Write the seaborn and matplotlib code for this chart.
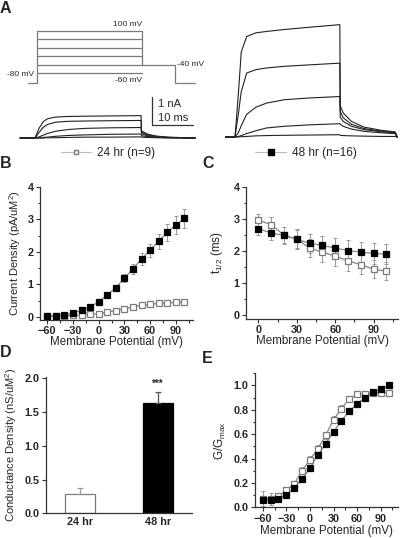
import numpy as np
import pandas as pd
import matplotlib
matplotlib.use("Agg")
import matplotlib.pyplot as plt
from matplotlib.lines import Line2D
from matplotlib.ticker import MultipleLocator
import seaborn as sns

# ---------------- data ----------------
# Panel A: voltage protocol (schematic levels) and current traces (ms, nA)
protocol_steps = [0.0, 0.2, 0.4, 0.6, 0.8, 1.0]
hold_level = -0.235
tail_level = 0.195
t_step_on, t_step_off, t_tail_off = 0.0, 25.2, 33.2

t_24 = [-3.6, 0, 1, 2, 3, 5, 8, 12, 18, 25.5, 25.6, 27, 29, 32, 38.5]
traces_24 = [
    [0, 0, 0.35, 0.58, 0.68, 0.74, 0.76, 0.77, 0.78, 0.79, 0.25, 0.14, 0.07, 0.03, 0],
    [0, 0, 0.20, 0.38, 0.48, 0.56, 0.59, 0.60, 0.61, 0.62, 0.20, 0.11, 0.06, 0.02, 0],
    [0, 0, 0.04, 0.10, 0.16, 0.24, 0.30, 0.34, 0.36, 0.37, 0.15, 0.08, 0.04, 0.02, 0],
    [0, 0, 0.00, 0.02, 0.03, 0.06, 0.09, 0.11, 0.13, 0.14, 0.08, 0.05, 0.03, 0.01, 0],
    [0, 0, 0.00, 0.00, 0.01, 0.01, 0.02, 0.03, 0.03, 0.04, 0.03, 0.02, 0.01, 0.00, 0],
]
t_48 = [-3, 0, 0.8, 1.5, 2.8, 5, 7.6, 12, 18, 25.2, 25.3, 26, 28, 31, 35, 38.5, 39.0]
traces_48 = [
    [0, 0, 1.5, 3.0, 3.55, 3.68, 3.73, 3.80, 3.88, 3.97, 1.10, 0.85, 0.55, 0.35, 0.24, 0.18, 0],
    [0, 0, 0.8, 1.6, 2.26, 2.38, 2.44, 2.50, 2.55, 2.61, 0.90, 0.68, 0.45, 0.30, 0.21, 0.16, 0],
    [0, 0, 0.15, 0.4, 0.80, 1.05, 1.20, 1.32, 1.38, 1.43, 0.70, 0.55, 0.38, 0.26, 0.19, 0.14, 0],
    [0, 0, 0.02, 0.05, 0.12, 0.22, 0.32, 0.38, 0.43, 0.47, 0.45, 0.38, 0.28, 0.20, 0.15, 0.12, 0],
    [0, 0, 0.0, 0.01, 0.02, 0.04, 0.05, 0.06, 0.07, 0.08, 0.06, 0.05, 0.04, 0.03, 0.02, 0.02, 0],
]

# Panel B: current density vs membrane potential
volt_B = [-60, -50, -40, -30, -20, -10, 0, 10, 20, 30, 40, 50, 60, 70, 80, 90, 100]
dens_24 = [0.01, 0.02, 0.03, 0.04, 0.05, 0.07, 0.10, 0.14, 0.19, 0.25, 0.30, 0.35, 0.38, 0.41, 0.43, 0.44, 0.46]
dens_24_err = [0.02, 0.02, 0.02, 0.02, 0.02, 0.02, 0.03, 0.03, 0.03, 0.04, 0.04, 0.04, 0.05, 0.05, 0.05, 0.05, 0.05]
dens_48 = [0.02, 0.03, 0.06, 0.12, 0.20, 0.31, 0.46, 0.67, 0.90, 1.19, 1.48, 1.78, 2.05, 2.33, 2.60, 2.83, 3.03]
dens_48_err = [0.02, 0.02, 0.02, 0.03, 0.03, 0.04, 0.04, 0.05, 0.08, 0.12, 0.15, 0.18, 0.20, 0.23, 0.26, 0.28, 0.30]

# Panel C: t1/2 vs membrane potential
volt_C = [0, 10, 20, 30, 40, 50, 60, 70, 80, 90, 100]
thalf_24 = [2.97, 2.83, 2.50, 2.38, 2.10, 1.97, 1.85, 1.70, 1.58, 1.44, 1.38]
thalf_24_err = [0.20, 0.25, 0.25, 0.30, 0.28, 0.30, 0.30, 0.30, 0.30, 0.28, 0.27]
thalf_48 = [2.70, 2.57, 2.49, 2.37, 2.25, 2.18, 2.10, 2.02, 1.97, 1.93, 1.91]
thalf_48_err = [0.20, 0.22, 0.25, 0.28, 0.30, 0.30, 0.30, 0.32, 0.32, 0.32, 0.32]

# Panel D: conductance density
groups_D = ["24 hr", "48 hr"]
cond_D = [0.29, 1.64]
cond_D_err = [0.085, 0.16]

# Panel E: G/Gmax
volt_E = volt_B
g_24 = [0.07, 0.07, 0.09, 0.14, 0.19, 0.30, 0.39, 0.48, 0.59, 0.72, 0.81, 0.89, 0.93, 0.93, 0.94, 0.94, 0.94]
g_24_err = [0.06, 0.05, 0.02, 0.02, 0.02, 0.03, 0.03, 0.03, 0.03, 0.03, 0.03, 0.02, 0.02, 0.01, 0.01, 0.01, 0.01]
g_48 = [0.06, 0.06, 0.07, 0.10, 0.16, 0.23, 0.32, 0.43, 0.52, 0.62, 0.71, 0.79, 0.85, 0.90, 0.945, 0.97, 1.00]
g_48_err = [0.02, 0.02, 0.02, 0.02, 0.02, 0.02, 0.02, 0.02, 0.02, 0.02, 0.02, 0.02, 0.02, 0.01, 0.01, 0.01, 0.01]

# ---------------- style ----------------
sns.set_style("ticks")
plt.rcParams['font.family'] = ['Liberation Sans', 'DejaVu Sans']
plt.rcParams['font.weight'] = 'bold'          # tick labels are bold in the reference
plt.rcParams['mathtext.default'] = 'regular'
plt.rcParams['xtick.labelsize'] = 7.8
plt.rcParams['ytick.labelsize'] = 7.8
plt.rcParams['axes.linewidth'] = 0.9
plt.rcParams['axes.edgecolor'] = '#333333'
plt.rcParams['xtick.major.size'] = 3
plt.rcParams['ytick.major.size'] = 3
plt.rcParams['xtick.minor.size'] = 1.8
plt.rcParams['ytick.minor.size'] = 1.8
plt.rcParams['xtick.major.pad'] = 1.5
plt.rcParams['ytick.major.pad'] = 1.5

GRAY = '#7a7a7a'
W, H = 400, 538
fig = plt.figure(figsize=(4, 5.38), dpi=100)


def px_axes(x0, y0, x1, y1):
    # axes from pixel box (top-left origin)
    return fig.add_axes([x0 / W, 1 - y1 / H, (x1 - x0) / W, (y1 - y0) / H])


def series(ax, x, y, err, filled):
    df = pd.DataFrame({"x": x, "y": y})
    ax.errorbar(x, y, yerr=err, fmt='none', ecolor='#999999', elinewidth=0.7,
                capsize=1.6, capthick=0.7, zorder=2)
    sns.lineplot(data=df, x="x", y="y", ax=ax, color=GRAY, lw=0.8, marker='s',
                 markersize=4.3 if filled else 3.7,
                 markerfacecolor='black' if filled else 'white',
                 markeredgecolor='black' if filled else GRAY,
                 markeredgewidth=0.9, zorder=4 if filled else 3)
    ax.set_xlabel("")
    ax.set_ylabel("")
    ax.tick_params(which='both', color='#333333', width=0.8)


# ---------------- Panel A ----------------
axp = px_axes(0, 20, 200, 90)
axp.axis('off')
axp.set_xlim((0 - 37) / 4.16, (200 - 37) / 4.16)
axp.set_ylim(-0.39, 1.25)
for lv in protocol_steps:
    axp.plot([t_step_on, t_step_off], [lv, lv], color=GRAY, lw=0.9)
axp.plot([-2.2, t_step_on, t_step_on], [hold_level, hold_level, max(protocol_steps)], color=GRAY, lw=0.9)
axp.plot([t_step_off, t_step_off, t_tail_off, t_tail_off, 38.0],
         [max(protocol_steps), tail_level, tail_level, hold_level, hold_level], color=GRAY, lw=0.9)
axp.text(t_step_off, 1.06, "100 mV", fontsize=6, ha='right', va='bottom', fontweight='normal')
axp.text(t_step_off, -0.08, "-60 mV", fontsize=6, ha='right', va='top', fontweight='normal')
axp.text(-0.6, -0.03, "-80 mV", fontsize=6, ha='right', va='center', fontweight='normal')
axp.text(t_tail_off + 0.4, tail_level + 0.02, "-40 mV", fontsize=6, ha='left', va='center',
         fontweight='normal')

axl = px_axes(15, 92, 200, 142)
axl.axis('off')
axl.set_xlim((15 - 35) / 4.16, (200 - 35) / 4.16)
axl.set_ylim((138 - 142) / 28.3, (138 - 92) / 28.3)
for tr in traces_24:
    axl.plot(t_24, tr, color='#222222', lw=0.8)
# scale bar 1 nA / 10 ms
axl.plot([28.05, 28.05, 38.05], [1.46, 0.46, 0.46], color='#333333', lw=0.9)
axl.text(29.6, 1.20, "1 nA", fontsize=8, ha='left', va='center', fontweight='normal')
axl.text(29.6, 0.72, "10 ms", fontsize=8, ha='left', va='center', fontweight='normal')

axr = px_axes(225, 18, 400, 142)
axr.axis('off')
axr.set_xlim((225 - 235) / 4.16, (400 - 235) / 4.16)
axr.set_ylim((137 - 142) / 28.3, (137 - 18) / 28.3)
for tr in traces_48:
    axr.plot(t_48, tr, color='#222222', lw=0.8)

h24 = Line2D([0], [0], color='#bbbbbb', lw=0.8, marker='s', markersize=3.5,
             markerfacecolor='white', markeredgecolor=GRAY)
h48 = Line2D([0], [0], color='#bbbbbb', lw=0.8, marker='s', markersize=4,
             markerfacecolor='black', markeredgecolor='black')
leg_font = {'size': 8.5, 'weight': 'normal'}
axl.legend(handles=[h24], labels=["24 hr (n=9)"], loc='center', frameon=False,
           bbox_to_anchor=(108 / W, 1 - 153 / H), bbox_transform=fig.transFigure,
           prop=leg_font, handlelength=2.6, handletextpad=0.5)
axr.legend(handles=[h48], labels=["48 hr (n=16)"], loc='center', frameon=False,
           bbox_to_anchor=(306 / W, 1 - 153 / H), bbox_transform=fig.transFigure,
           prop=leg_font, handlelength=2.6, handletextpad=0.5)

# ---------------- Panel B ----------------
axB = px_axes(40, 187, 193, 320)
series(axB, volt_B, dens_24, dens_24_err, False)
series(axB, volt_B, dens_48, dens_48_err, True)
axB.set_xlim(-68.5, 110)
axB.set_ylim(-0.1, 4.0)
axB.xaxis.set_major_locator(MultipleLocator(30))
axB.xaxis.set_minor_locator(MultipleLocator(15))
axB.yaxis.set_major_locator(MultipleLocator(1))
axB.yaxis.set_minor_locator(MultipleLocator(0.5))
axB.set_xlabel("Membrane Potential (mV)", fontsize=8.4, fontweight='normal', labelpad=0)
axB.set_ylabel("Current Density (pA/uM$^2$)", fontsize=8, fontweight='normal', labelpad=3)
sns.despine(ax=axB)

# ---------------- Panel C ----------------
axC = px_axes(246, 187, 398, 319)
series(axC, volt_C, thalf_24, thalf_24_err, False)
series(axC, volt_C, thalf_48, thalf_48_err, True)
axC.set_xlim(-9.6, 109)
axC.set_ylim(-0.11, 4.0)
axC.xaxis.set_major_locator(MultipleLocator(30))
axC.xaxis.set_minor_locator(MultipleLocator(15))
axC.yaxis.set_major_locator(MultipleLocator(1))
axC.yaxis.set_minor_locator(MultipleLocator(0.5))
axC.set_xlabel("Membrane Potential (mV)", fontsize=8.4, fontweight='normal', labelpad=0)
axC.set_ylabel("t$_{1/2}$ (ms)", fontsize=8.4, fontweight='normal', labelpad=6)
sns.despine(ax=axC)

# ---------------- Panel D ----------------
axD = px_axes(45.7, 377, 192, 513.3)
sns.barplot(x=groups_D, y=cond_D, hue=groups_D, palette=['white', 'black'],
            width=0.385, linewidth=0.9, legend=False, ax=axD)
for patch, ec in zip(axD.patches, [GRAY, 'black']):
    patch.set_edgecolor(ec)
for i, ec in enumerate(['#999999', '#555555']):
    axD.errorbar([i], [cond_D[i]], yerr=[[0], [cond_D_err[i]]], fmt='none',
                 ecolor=ec, elinewidth=0.9, capsize=2.5, capthick=0.9)
axD.text(1, cond_D[1] + cond_D_err[1] + 0.05, "***", ha='center', va='bottom', fontsize=7)
axD.set_xlim(-0.44, 1.44)
axD.set_ylim(0, 2.02)
axD.yaxis.set_major_locator(MultipleLocator(0.5))
axD.set_ylabel("Conductance Density (nS/uM$^2$)", fontsize=8, fontweight='normal', labelpad=4)
axD.tick_params(axis='x', length=0, pad=3)
axD.tick_params(which='both', color='#333333', width=0.8)
sns.despine(ax=axD)

# ---------------- Panel E ----------------
axE = px_axes(255, 373.3, 398, 507.3)
series(axE, volt_E, g_24, g_24_err, False)
series(axE, volt_E, g_48, g_48_err, True)
axE.set_xlim(-69.8, 112)
axE.set_ylim(0, 1.1)
axE.xaxis.set_major_locator(MultipleLocator(30))
axE.xaxis.set_minor_locator(MultipleLocator(15))
axE.yaxis.set_major_locator(MultipleLocator(0.2))
axE.yaxis.set_minor_locator(MultipleLocator(0.1))
axE.set_xlabel("Membrane Potential (mV)", fontsize=8.4, fontweight='normal', labelpad=1)
axE.set_ylabel("G/G$_{max}$", fontsize=8.4, fontweight='normal', labelpad=4)
sns.despine(ax=axE)

# ---------------- panel letters ----------------
for lab, x, y in [("A", 0, 1), ("B", 0, 156), ("C", 202, 156), ("D", 0, 345), ("E", 202, 351)]:
    fig.text(x / W, 1 - y / H, lab, fontsize=11.5, fontweight='bold', ha='left', va='top')

fig.savefig("out.png", dpi=100)
